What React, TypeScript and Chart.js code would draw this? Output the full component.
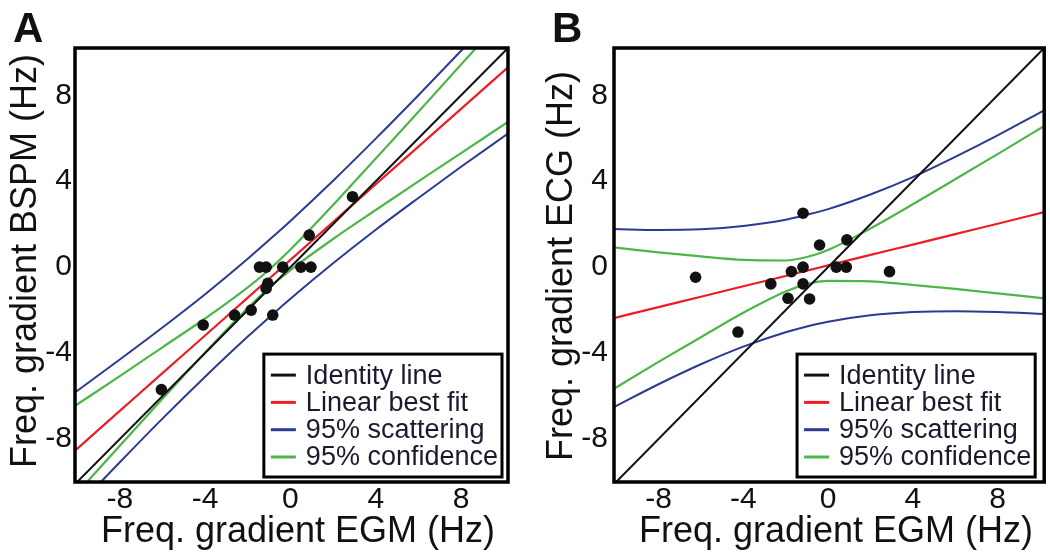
import React, { useEffect, useRef } from 'react';
import { Chart, registerables } from 'chart.js';

Chart.register(...registerables);

const FONT = '"Liberation Sans", Arial, Helvetica, sans-serif';

// Axis ranges and ticks (both panels)
const X_MIN = -10.1;
const X_MAX = 10.2;
const Y_MIN = -10;
const Y_MAX = 10.2;
const X_TICKS = [-8, -4, 0, 4, 8];
const Y_TICKS = [-8, -4, 0, 4, 8];

// Identity line end points
const IDENTITY = [-10.1, 10.2];

const CURVE_X = [-10.1, -8, -6, -4, -2, -1, 0, 2, 4, 6, 8, 10.2];

// Panel A: EGM vs BSPM
const A_EGM = [2.91, 0.88, -1.45, -1.14, -0.36, 0.49, 0.96, -1.06, -1.14, -2.62, -1.84, -0.83, -4.09, -6.05];
const A_BSPM = [3.28, 1.49, 0, 0, 0, 0, 0, -0.75, -0.99, -2.23, -2.0, -2.23, -2.69, -5.7];
const A_FIT = [-8.54, -6.69, -4.93, -3.18, -1.42, -0.54, 0.34, 2.1, 3.86, 5.61, 7.37, 9.3];
const A_SCAT_UP = [-5.83, -4.3, -2.81, -1.26, 0.39, 1.26, 2.15, 4.02, 5.98, 8.0, 10.07, 12.38];
const A_SCAT_LO = [-11.25, -9.08, -7.05, -5.1, -3.23, -2.34, -1.47, 0.18, 1.74, 3.22, 4.67, 6.22];
const A_CONF_UP = [-6.46, -5.07, -3.73, -2.39, -0.94, -0.12, 0.82, 2.89, 5.06, 7.23, 9.43, 11.84];
const A_CONF_LO = [-10.62, -8.31, -6.13, -3.97, -1.9, -0.96, -0.14, 1.31, 2.66, 3.99, 5.31, 6.76];

// Panel B: EGM vs ECG
const B_EGM = [-1.18, -0.4, 0.89, -6.25, -2.7, -1.73, -1.18, -1.18, -1.89, -0.87, 0.39, 0.86, 2.9, -4.25];
const B_ECG = [2.51, 1.03, 1.27, -0.47, -0.78, -0.21, 0, -0.78, -1.45, -1.48, 0, 0, -0.21, -3.02];
const B_FIT = [-2.37, -1.86, -1.38, -0.89, -0.41, -0.16, 0.08, 0.57, 1.05, 1.54, 2.02, 2.56];
const B_SCAT_UP = [1.77, 1.73, 1.76, 1.92, 2.21, 2.44, 2.7, 3.38, 4.19, 5.13, 6.13, 7.3];
const B_SCAT_LO = [-6.51, -5.45, -4.52, -3.7, -3.03, -2.76, -2.54, -2.24, -2.09, -2.05, -2.09, -2.18];
const B_CONF_UP = [0.92, 0.69, 0.5, 0.34, 0.31, 0.47, 0.8, 1.8, 2.93, 4.09, 5.26, 6.57];
const B_CONF_LO = [-5.66, -4.41, -3.26, -2.12, -1.13, -0.79, -0.64, -0.66, -0.83, -1.01, -1.22, -1.45];

const LEGEND_LABELS = ['Identity line', 'Linear best fit', '95% scattering', '95% confidence'];
const COLORS = ['#111111', '#ee1c25', '#2b3a93', '#4db648'];

const toPts = (xs: number[], ys: number[]) => xs.map((x, i) => ({ x, y: ys[i] }));

const decorPlugin = {
  id: 'decor',
  afterDatasetsDraw(chart: any, _args: any, opts: any) {
    const { ctx, chartArea: a } = chart;
    ctx.save();
    // frame
    ctx.lineWidth = 3.5;
    ctx.strokeStyle = '#000';
    ctx.strokeRect(a.left, a.top, a.right - a.left, a.bottom - a.top);

    // legend box
    ctx.font = `${opts.legendSize}px ${FONT}`;
    let maxW = 0;
    LEGEND_LABELS.forEach((l) => { maxW = Math.max(maxW, ctx.measureText(l).width); });
    const padL = 7, sample = 25, gap = 10, padR = 4;
    const rowH = 27.3, padTop = 21, padBottom = 20;
    const w = padL + sample + gap + maxW + padR;
    const h = padTop + rowH * (LEGEND_LABELS.length - 1) + padBottom;
    const right = a.right - opts.legendRightInset;
    const bottom = a.bottom - 5;
    const left = right - w;
    const top = bottom - h;
    ctx.fillStyle = '#fff';
    ctx.fillRect(left, top, w, h);
    ctx.lineWidth = 3;
    ctx.strokeStyle = '#000';
    ctx.strokeRect(left, top, w, h);
    ctx.textBaseline = 'middle';
    ctx.textAlign = 'left';
    LEGEND_LABELS.forEach((l, i) => {
      const cy = top + padTop + i * rowH;
      ctx.strokeStyle = COLORS[i];
      ctx.lineWidth = 3;
      ctx.beginPath();
      ctx.moveTo(left + padL, cy);
      ctx.lineTo(left + padL + sample, cy);
      ctx.stroke();
      ctx.fillStyle = '#1a1a2e';
      ctx.fillText(l, left + padL + sample + gap, cy + 1);
    });
    ctx.restore();
  },
  afterDraw(chart: any, _args: any, opts: any) {
    const { ctx } = chart;
    ctx.save();
    ctx.fillStyle = '#111';
    // panel letter
    ctx.font = `bold 42px ${FONT}`;
    ctx.textAlign = 'left';
    ctx.textBaseline = 'alphabetic';
    ctx.fillText(opts.letter, opts.letterX, 42);
    // x title
    ctx.font = `36px ${FONT}`;
    ctx.textAlign = 'center';
    ctx.fillText(opts.xTitle, opts.xTitleX, opts.xTitleBaseline);
    // y title
    ctx.translate(opts.yTitleBaseline, opts.yTitleY);
    ctx.rotate(-Math.PI / 2);
    ctx.fillText(opts.yTitle, 0, 0);
    ctx.restore();
  },
};

type PanelCfg = {
  egm: number[]; vals: number[]; fit: number[]; scatUp: number[]; scatLo: number[];
  confUp: number[]; confLo: number[]; yWidth: number; rightPad: number; yTickPad: number;
  letter: string; letterX: number; xTitle: string; xTitleX: number; yTitle: string;
  yTitleBaseline: number; yTitleY: number; legendRightInset: number;
};

const lineDs = (data: any[], color: string, width = 2) => ({
  type: 'line' as const,
  data,
  showLine: true,
  borderColor: color,
  borderWidth: width,
  pointRadius: 0,
  fill: false,
  cubicInterpolationMode: 'monotone' as const,
});

function Panel({ cfg, left }: { cfg: PanelCfg; left: number }) {
  const ref = useRef<HTMLCanvasElement>(null);
  useEffect(() => {
    if (!ref.current) return;
    const tickFont = { size: 30, family: FONT };
    const chart = new Chart(ref.current, {
      type: 'scatter',
      data: {
        datasets: [
          {
            data: toPts(cfg.egm, cfg.vals),
            backgroundColor: '#111',
            borderWidth: 0,
            pointRadius: 5.8,
            showLine: false,
          } as any,
          lineDs(toPts(IDENTITY, IDENTITY), COLORS[0], 2),
          lineDs(toPts(CURVE_X, cfg.fit), COLORS[1], 2.2),
          lineDs(toPts(CURVE_X, cfg.scatUp), COLORS[2], 2),
          lineDs(toPts(CURVE_X, cfg.scatLo), COLORS[2], 2),
          lineDs(toPts(CURVE_X, cfg.confUp), COLORS[3], 2.2),
          lineDs(toPts(CURVE_X, cfg.confLo), COLORS[3], 2.2),
        ],
      },
      options: {
        responsive: false,
        animation: false,
        devicePixelRatio: 1,
        layout: { padding: { left: 0, top: 48, right: cfg.rightPad, bottom: 0 } },
        plugins: {
          legend: { display: false },
          tooltip: { enabled: false },
          decor: {
            legendSize: 27,
            legendRightInset: cfg.legendRightInset,
            letter: cfg.letter,
            letterX: cfg.letterX,
            xTitle: cfg.xTitle,
            xTitleX: cfg.xTitleX,
            xTitleBaseline: 542,
            yTitle: cfg.yTitle,
            yTitleBaseline: cfg.yTitleBaseline,
            yTitleY: cfg.yTitleY,
          },
        } as any,
        scales: {
          x: {
            type: 'linear',
            min: X_MIN,
            max: X_MAX,
            grid: { display: false, drawTicks: false },
            border: { display: false },
            ticks: { font: tickFont, color: '#111', padding: 0 },
            afterBuildTicks: (s: any) => { s.ticks = X_TICKS.map((v) => ({ value: v })); },
            afterFit: (s: any) => { s.height = 74; },
          },
          y: {
            type: 'linear',
            min: Y_MIN,
            max: Y_MAX,
            grid: { display: false, drawTicks: false },
            border: { display: false },
            ticks: { font: tickFont, color: '#111', padding: cfg.yTickPad },
            afterBuildTicks: (s: any) => { s.ticks = Y_TICKS.map((v) => ({ value: v })); },
            afterFit: (s: any) => { s.width = cfg.yWidth; },
          },
        },
      },
      plugins: [decorPlugin],
    } as any);
    return () => chart.destroy();
  }, [cfg]);
  return (
    <canvas
      ref={ref}
      width={525}
      height={556}
      style={{ position: 'absolute', left, top: 0, width: 525, height: 556 }}
    />
  );
}

const PANEL_A: PanelCfg = {
  egm: A_EGM, vals: A_BSPM, fit: A_FIT, scatUp: A_SCAT_UP, scatLo: A_SCAT_LO,
  confUp: A_CONF_UP, confLo: A_CONF_LO, yWidth: 75, rightPad: 17, yTickPad: 3,
  letter: 'A', letterX: 13, xTitle: 'Freq. gradient EGM (Hz)', xTitleX: 298,
  yTitle: 'Freq. gradient BSPM (Hz)', yTitleBaseline: 35.5, yTitleY: 261, legendRightInset: 6,
};

const PANEL_B: PanelCfg = {
  egm: B_EGM, vals: B_ECG, fit: B_FIT, scatUp: B_SCAT_UP, scatLo: B_SCAT_LO,
  confUp: B_CONF_UP, confLo: B_CONF_LO, yWidth: 89, rightPad: 5, yTickPad: 6,
  letter: 'B', letterX: 27, xTitle: 'Freq. gradient EGM (Hz)', xTitleX: 311,
  yTitle: 'Freq. gradient ECG (Hz)', yTitleBaseline: 47, yTitleY: 266, legendRightInset: 9,
};

export default function App() {
  return (
    <div style={{ position: 'absolute', left: 0, top: 0, width: 1050, height: 556, background: '#fff', overflow: 'hidden' }}>
      <Panel cfg={PANEL_A} left={0} />
      <Panel cfg={PANEL_B} left={525} />
    </div>
  );
}
